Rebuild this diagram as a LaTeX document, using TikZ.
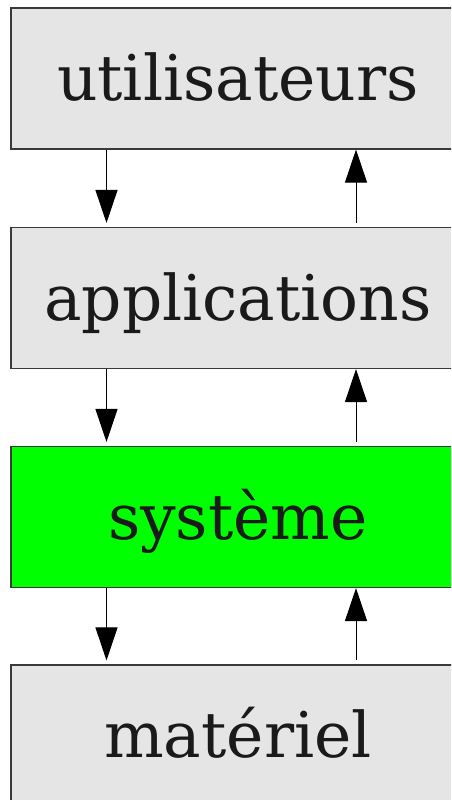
\documentclass[tikz,border=0pt]{standalone}
\usepackage{fontspec}
\setmainfont{DejaVu Serif}
\usetikzlibrary{arrows.meta}
\definecolor{boxgray}{HTML}{E5E5E5}
\definecolor{boxline}{HTML}{3A3A3A}
\definecolor{txt}{HTML}{1A1A1A}
\definecolor{sysgreen}{HTML}{00FF00}
\tikzset{
  layer/.style={draw=boxline, line width=1.1pt, fill=boxgray, text=txt,
    minimum width=454pt, minimum height=141pt, inner sep=0pt,
    text height=60pt, text depth=16pt,
    font=\fontsize{63}{75}\selectfont},
  flow/.style={line width=1pt, -{Triangle[width=22pt,length=33pt]}},
}
\begin{document}
\begin{tikzpicture}[x=1pt,y=-1pt]
\useasboundingbox (0,0) rectangle (451,800);
\clip (0,0) rectangle (451,800);
\node[layer] (u) at (238,78.5) {utilisateurs};
\node[layer] (a) at (238,298) {applications};
\node[layer, fill=sysgreen] (s) at (238,517) {système};
\node[layer] (m) at (238,735.5) {matériel};
% requests go down on the left, results come back up on the right
\foreach \top/\bot in {u/a, a/s, s/m}{
  \draw[flow, shorten >=4pt] ([xshift=-131.5pt]\top.south) -- ([xshift=-131.5pt]\bot.north);
  \draw[flow, shorten <=4pt] ([xshift=118pt]\bot.north) -- ([xshift=118pt]\top.south);
}
\end{tikzpicture}
\end{document}
